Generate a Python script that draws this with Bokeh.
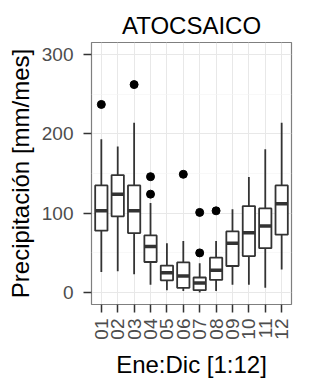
import math
from bokeh.plotting import figure
from bokeh.models import Range1d, FixedTicker, ColumnDataSource
from bokeh.embed import file_html
from bokeh.resources import INLINE

# ---- data ----
months = ["01", "02", "03", "04", "05", "06", "07", "08", "09", "10", "11", "12"]
q1 = [78, 96, 75, 38.5, 15.5, 6, 3, 16, 33.5, 46, 56, 73]
median = [103, 124, 103, 58, 25, 21, 12, 28, 62, 75.5, 84, 112]
q3 = [135, 148, 135, 72, 34, 38, 19, 44, 77, 109, 106, 135]
whisker_low = [26, 27, 23, 10, 3, 2, 0, 2, 10, 10, 6, 29]
whisker_high = [193, 184, 214, 113, 62, 65, 37, 65, 105, 145.5, 180.5, 214]
outlier_month = ["01", "03", "04", "04", "06", "07", "07", "08"]
outlier_value = [237, 262, 146, 124, 149, 101, 50, 103]
y_ticks = [0, 100, 200, 300]

FONT = "Liberation Sans"
BOX_COL = "#333333"

pos = {m: i + 1 for i, m in enumerate(months)}
xs = [pos[m] for m in months]
half = 0.375

box_src = ColumnDataSource(dict(
    x=xs, q1=q1, q3=q3, med=median, lo=whisker_low, hi=whisker_high,
    x0=[x - half for x in xs], x1=[x + half for x in xs],
))
out_src = ColumnDataSource(dict(x=[pos[m] for m in outlier_month], y=outlier_value))

p = figure(
    frame_width=200, frame_height=262,
    x_range=Range1d(0.4, 12.6), y_range=Range1d(-15, 315),
    output_backend="svg", toolbar_location=None,
    min_border_left=91, min_border_right=32, min_border_top=42, min_border_bottom=70,
    background_fill_color="white", border_fill_color="white",
)

# title
p.title.text = "ATOCSAICO"
p.title.align = "center"
p.title.text_font = FONT
p.title.text_font_size = "24px"
p.title.text_font_style = "normal"
p.title.text_color = "black"
p.title.standoff = 7

# panel border
p.outline_line_color = "#7F7F7F"
p.outline_line_width = 1.2

# grids
p.xgrid.ticker = FixedTicker(ticks=xs)
p.xgrid.grid_line_color = "#E8E8E8"
p.xgrid.grid_line_width = 1
p.ygrid.ticker = FixedTicker(ticks=y_ticks, minor_ticks=[50, 150, 250])
p.ygrid.grid_line_color = "#E8E8E8"
p.ygrid.grid_line_width = 1
p.ygrid.minor_grid_line_color = "#F4F4F4"
p.ygrid.minor_grid_line_width = 0.6

# axes
p.xaxis.ticker = FixedTicker(ticks=xs)
p.xaxis.major_label_overrides = {x: m for x, m in zip(xs, months)}
p.xaxis.major_label_orientation = math.pi / 2
p.yaxis.ticker = FixedTicker(ticks=y_ticks)

for ax in (p.xaxis[0], p.yaxis[0]):
    ax.axis_line_color = None
    ax.major_tick_line_color = BOX_COL
    ax.major_tick_line_width = 1.5
    ax.major_tick_out = 8
    ax.major_tick_in = 0
    ax.minor_tick_line_color = None
    ax.major_label_text_font = FONT
    ax.major_label_text_font_size = "19px"
    ax.major_label_text_color = "#4D4D4D"
    ax.axis_label_text_font = FONT
    ax.axis_label_text_font_size = "24px"
    ax.axis_label_text_font_style = "normal"
    ax.axis_label_text_color = "black"

p.xaxis.axis_label = "Ene:Dic [1:12]"
p.yaxis.axis_label = "Precipitación [mm/mes]"
p.xaxis.major_label_standoff = 6
p.yaxis.major_label_standoff = 10
p.xaxis.axis_label_standoff = 8
p.yaxis.axis_label_standoff = 5

# whiskers
p.segment(x0="x", y0="q3", x1="x", y1="hi", source=box_src, line_color=BOX_COL, line_width=1.8)
p.segment(x0="x", y0="q1", x1="x", y1="lo", source=box_src, line_color=BOX_COL, line_width=1.8)
# boxes
p.vbar(x="x", width=2 * half, top="q3", bottom="q1", source=box_src,
       fill_color="white", line_color=BOX_COL, line_width=1.8)
# medians
p.segment(x0="x0", y0="med", x1="x1", y1="med", source=box_src, line_color=BOX_COL, line_width=3.5)
# outliers
p.scatter(x="x", y="y", source=out_src, size=8, fill_color="black", line_color="black")

open("out.html", "w").write(file_html(p, INLINE))
